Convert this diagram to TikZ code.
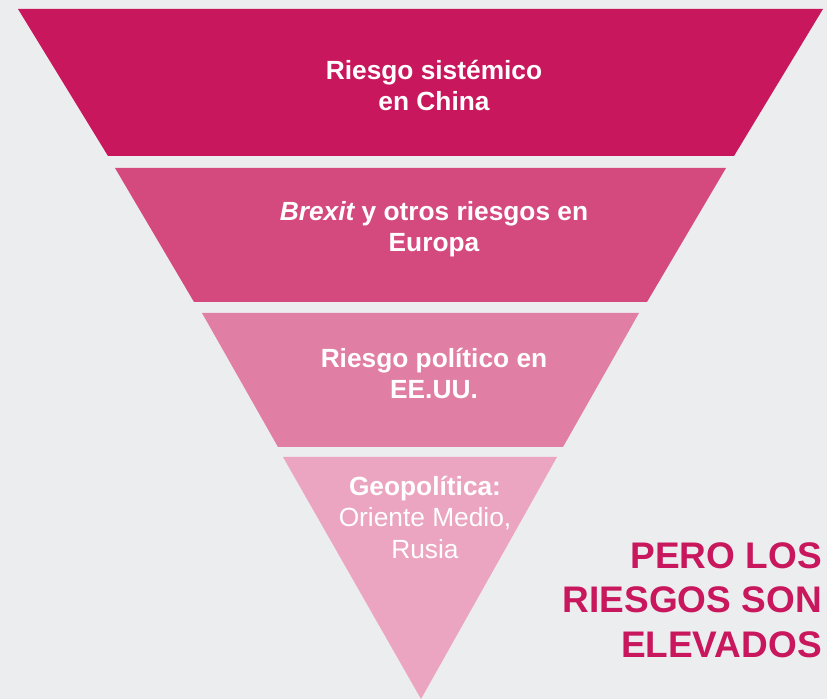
\documentclass[tikz,border=0pt]{standalone}
\usepackage{fontspec}
\setmainfont{Liberation Sans}
\definecolor{bg}{HTML}{ECEDEF}
\definecolor{bandA}{HTML}{C8175D}
\definecolor{bandB}{HTML}{D4497E}
\definecolor{bandC}{HTML}{E07EA3}
\definecolor{bandD}{HTML}{EBA5C1}
\begin{document}
\begin{tikzpicture}[x=1pt,y=1pt,
  bandtext/.style={text=white, align=center, inner sep=0pt, font=\fontsize{26.3}{31.5}\selectfont},
  sidetext/.style={text=bandA, align=right, inner sep=0pt, anchor=east, font=\bfseries\fontsize{37}{44.5}\selectfont}]
\useasboundingbox (0,0) rectangle (827,699);
\fill[bg] (0,0) rectangle (827,699);
% bands (y measured from top: y_tikz = 699 - y)
\fill[bandA] (18,690) -- (823,690) -- (734,543) -- (108,543) -- cycle;
\fill[bandB] (115,531) -- (726,531) -- (647,397) -- (194,397) -- cycle;
\fill[bandC] (202,386) -- (639,386) -- (563,252) -- (278,252) -- cycle;
\fill[bandD] (283,242) -- (557,242) -- (421,0) -- cycle;
% texts
\node[bandtext] (t1) at (434,613.5) {\bfseries Riesgo sistémico\\\bfseries en China};
\node[bandtext] (t2) at (434,470) {\bfseries\itshape Brexit\upshape\ y otros riesgos en\\\bfseries Europa};
\node[bandtext] (t3) at (434,325.5) {\bfseries Riesgo político en\\\bfseries EE.UU.};
\node[bandtext] (t4) at (425,182) {\bfseries Geopolítica:\\Oriente Medio,\\Rusia};
\node[sidetext] (s) at (822,99) {PERO LOS\\RIESGOS SON\\ELEVADOS};
\end{tikzpicture}
\end{document}
